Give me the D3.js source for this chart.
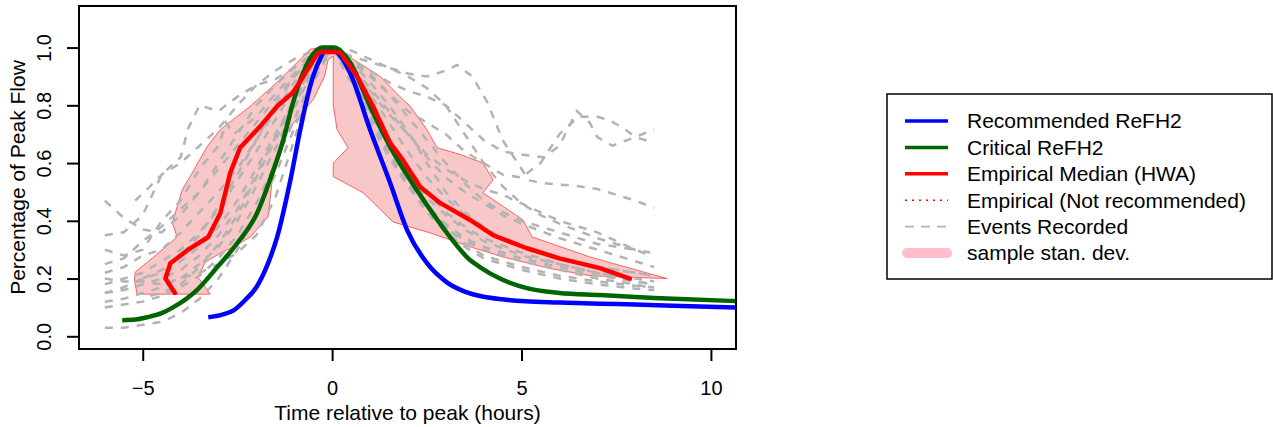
<!DOCTYPE html>
<html>
<head>
<meta charset="utf-8">
<script src="https://cdn.jsdelivr.net/npm/d3@7"></script>
<style>
  body { margin: 0; background: #fff; }
  svg { display: block; font-family: "Liberation Sans", Arial, sans-serif; }
</style>
</head>
<body>
<svg width="1273" height="427"></svg>
<script>
// ReFH2 design hydrographs
const blueT = [-3.27, -2.9, -2.6, -2.3, -2.0, -1.7, -1.45, -1.1, -0.84, -0.58, -0.32, -0.15, 0.05, 0.47, 1.0, 1.53, 1.98, 2.5, 3.03, 3.5, 4.0, 4.5, 5.1, 6.0, 7.07, 8.0, 9.0, 10.66];
const blueQ = [0.066, 0.075, 0.09, 0.125, 0.17, 0.25, 0.344, 0.542, 0.716, 0.866, 0.96, 0.995, 0.99, 0.914, 0.716, 0.532, 0.368, 0.254, 0.187, 0.155, 0.137, 0.128, 0.121, 0.117, 0.113, 0.11, 0.106, 0.10];

const greenT = [-5.54, -5.2, -4.88, -4.5, -4.2, -3.57, -3.03, -2.5, -1.98, -1.64, -1.29, -1.03, -0.76, -0.45, -0.25, 0.05, 0.47, 1.0, 1.53, 2.06, 2.59, 3.11, 3.64, 3.9, 4.43, 5.14, 6.0, 7.07, 8.5, 10.66];
const greenQ = [0.056, 0.058, 0.066, 0.08, 0.10, 0.16, 0.24, 0.323, 0.427, 0.542, 0.68, 0.81, 0.914, 0.985, 1.0, 1.0, 0.949, 0.797, 0.657, 0.542, 0.438, 0.344, 0.264, 0.24, 0.2, 0.167, 0.15, 0.143, 0.133, 0.122];

// empirical median
const redT = [-4.15, -4.4, -4.27, -3.8, -3.27, -2.95, -2.69, -2.43, -1.9, -1.45, -1.03, -0.76, -0.4, -0.3, 0.1, 0.21, 0.66, 1.08, 1.53, 1.87, 2.32, 2.85, 3.64, 4.25, 5.14, 6.0, 7.07, 7.86];
const redQ = [0.15, 0.2, 0.253, 0.3, 0.344, 0.427, 0.566, 0.653, 0.727, 0.797, 0.845, 0.9, 0.977, 0.985, 0.985, 0.983, 0.9, 0.797, 0.67, 0.61, 0.518, 0.462, 0.403, 0.35, 0.305, 0.27, 0.236, 0.2];

// sample stan. dev. polygon (outline, clockwise)
const bandT = [-5.15, -5.22, -5.2, -4.27, -4.09, -4.22, -3.96, -3.75, -3.3, -2.95, -2.16, -1.45, -0.92, -0.58, -0.3, 0.2, 0.55, 1.27, 1.79, 2.06, 2.5, 2.77, 3.38, 3.98, 4.25, 3.98, 5.04, 5.28, 6.8, 8.84,
  6.8, 5.75, 4.5, 3.64, 2.59, 1.61, 0.82, 0.03, 0.03, 0.42, 0.13, 0.03, 0.03,
  -0.1, -0.2, -0.5, -1.16, -1.58, -1.69, -2.16, -2.6, -2.95, -3.35, -3.54, -3.22];
const bandQ = [0.146, 0.195, 0.222, 0.323, 0.344, 0.393, 0.507, 0.553, 0.657, 0.716, 0.797, 0.88, 0.949, 0.994, 1.0, 0.994, 0.96, 0.9, 0.83, 0.797, 0.716, 0.653, 0.63, 0.6, 0.542, 0.497, 0.403, 0.344, 0.275, 0.2,
  0.21, 0.235, 0.275, 0.31, 0.358, 0.396, 0.497, 0.553, 0.6, 0.653, 0.716, 0.8, 0.97,
  0.96, 0.9, 0.82, 0.716, 0.542, 0.414, 0.344, 0.31, 0.288, 0.257, 0.205, 0.146];

// recorded events, [hours, fraction of peak]
const events = [
  [[-6,0.03],[-5.5,0.03],[-5,0.04],[-4.5,0.05],[-4,0.08],[-3.5,0.13],[-3,0.2],[-2.5,0.3],[-2,0.42],[-1.5,0.56],[-1,0.72],[-0.5,0.88],[0,1],[0.5,0.92],[1,0.8],[1.5,0.68],[2,0.56],[2.5,0.46],[3,0.38],[3.5,0.32],[4,0.28],[5,0.24],[6,0.21],[7,0.19],[8,0.175],[8.5,0.17]],
  [[-6,0.47],[-5.5,0.41],[-5,0.37],[-4.5,0.36],[-4,0.42],[-3.5,0.5],[-3,0.58],[-2.5,0.66],[-2,0.74],[-1.5,0.82],[-1,0.9],[-0.5,0.96],[0,1],[0.5,0.93],[1,0.84],[1.5,0.74],[2,0.64],[2.5,0.55],[3,0.48],[3.5,0.42],[4,0.37],[5,0.31],[6,0.27],[7,0.24],[8,0.22],[8.5,0.21]],
  [[-6,0.35],[-5.5,0.36],[-5,0.42],[-4.5,0.56],[-4,0.62],[-3.8,0.72],[-3.5,0.8],[-3,0.78],[-2.5,0.83],[-2,0.87],[-1.5,0.89],[-1,0.93],[-0.5,0.98],[0,1],[0.5,0.97],[1,0.95],[1.5,0.93],[2,0.91],[2.5,0.9],[3,0.92],[3.3,0.94],[3.7,0.9],[4.1,0.81],[4.5,0.68],[4.9,0.6],[5.2,0.54],[5.6,0.53],[6.5,0.52],[7,0.51],[7.5,0.49],[8,0.47],[8.5,0.445]],
  [[-6,0.3],[-5.5,0.28],[-5,0.3],[-4.5,0.4],[-4,0.47],[-3.5,0.58],[-3,0.66],[-2.8,0.74],[-2.6,0.7],[-2,0.76],[-1.5,0.84],[-1,0.91],[-0.5,0.97],[0,1],[0.5,0.96],[1,0.92],[1.5,0.88],[2,0.85],[2.5,0.83],[3,0.8],[3.5,0.74],[4,0.68],[4.5,0.64],[5,0.63],[5.6,0.62],[6,0.66],[6.46,0.78],[6.8,0.74],[7,0.69],[7.4,0.66],[7.6,0.67],[8,0.69],[8.5,0.716]],
  [[-6,0.25],[-5.5,0.27],[-5,0.33],[-4.5,0.38],[-4,0.44],[-3.5,0.5],[-3,0.6],[-2.5,0.7],[-2,0.8],[-1.5,0.87],[-1,0.93],[-0.5,0.98],[0,1],[0.5,0.95],[1,0.9],[1.5,0.84],[2,0.78],[2.5,0.74],[3,0.7],[3.5,0.64],[4,0.6],[4.5,0.56],[5,0.55],[5.5,0.6],[6,0.7],[6.5,0.76],[7,0.76],[7.3,0.75],[7.7,0.72],[8,0.69],[8.5,0.67]],
  [[-6,0.22],[-5.5,0.24],[-5,0.28],[-4.5,0.3],[-4,0.36],[-3.5,0.43],[-3,0.5],[-2.5,0.58],[-2,0.68],[-1.5,0.78],[-1,0.88],[-0.5,0.95],[0,1],[0.5,0.93],[1,0.85],[1.5,0.77],[2,0.7],[2.5,0.63],[3,0.58],[3.5,0.54],[4,0.51],[4.5,0.49],[5,0.46],[5.5,0.43],[6,0.4],[6.5,0.38],[7,0.36],[7.5,0.33],[8,0.3],[8.4,0.28]],
  [[-6,0.18],[-5.5,0.2],[-5,0.22],[-4.5,0.26],[-4,0.3],[-3.5,0.36],[-3,0.44],[-2.5,0.54],[-2,0.64],[-1.5,0.75],[-1,0.86],[-0.5,0.95],[0,1],[0.5,0.94],[1,0.86],[1.5,0.78],[2,0.7],[2.5,0.62],[3,0.55],[3.5,0.5],[4,0.46],[4.5,0.42],[5,0.39],[6,0.34],[7,0.3],[8,0.26],[8.5,0.24]],
  [[-6,0.15],[-5.5,0.17],[-5,0.2],[-4.5,0.22],[-4,0.26],[-3.5,0.31],[-3,0.38],[-2.5,0.47],[-2,0.58],[-1.5,0.7],[-1,0.82],[-0.5,0.93],[0,1],[0.5,0.9],[1,0.78],[1.5,0.66],[2,0.56],[2.5,0.48],[3,0.42],[3.5,0.37],[4,0.33],[5,0.28],[6,0.25],[7,0.22],[8,0.2],[8.5,0.19]],
  [[-6,0.12],[-5.5,0.13],[-5,0.15],[-4.5,0.17],[-4,0.2],[-3.5,0.25],[-3,0.31],[-2.5,0.4],[-2,0.52],[-1.5,0.65],[-1,0.79],[-0.5,0.92],[0,1],[0.5,0.91],[1,0.8],[1.5,0.69],[2,0.59],[2.5,0.5],[3,0.43],[3.5,0.38],[4,0.34],[5,0.29],[6,0.25],[7,0.22],[8,0.19],[8.5,0.18]],
  [[-6,0.1],[-5.5,0.11],[-5,0.12],[-4.5,0.14],[-4,0.17],[-3.5,0.21],[-3,0.27],[-2.5,0.35],[-2,0.46],[-1.5,0.6],[-1,0.75],[-0.5,0.9],[0,1],[0.5,0.88],[1,0.74],[1.5,0.62],[2,0.52],[2.5,0.44],[3,0.38],[3.5,0.33],[4,0.3],[5,0.26],[6,0.23],[7,0.2],[8,0.18],[8.5,0.165]],
  [[-5,0.2],[-4.5,0.23],[-4,0.28],[-3.5,0.35],[-3,0.45],[-2.5,0.56],[-2,0.68],[-1.5,0.8],[-1,0.9],[-0.5,0.97],[0,1],[0.5,0.96],[1,0.91],[1.5,0.84],[2,0.76],[2.5,0.68],[3,0.6],[3.5,0.53],[4,0.47],[4.5,0.43],[5,0.4],[6,0.36],[7,0.32],[8,0.3]],
  [[-4.8,0.14],[-4.5,0.15],[-4,0.18],[-3.5,0.24],[-3,0.32],[-2.5,0.42],[-2,0.55],[-1.5,0.68],[-1,0.8],[-0.5,0.92],[0,1],[0.5,0.95],[1,0.88],[1.5,0.8],[2,0.71],[2.5,0.6],[3,0.5],[3.5,0.43],[4,0.38],[4.5,0.34],[5,0.31],[6,0.27],[7,0.24],[8,0.22],[8.5,0.21]],
  [[-6,0.2],[-5.5,0.19],[-5,0.19],[-4.5,0.18],[-4,0.2],[-3.5,0.22],[-3,0.25],[-2.5,0.29],[-2,0.35],[-1.5,0.48],[-1,0.68],[-0.5,0.9],[0,1],[0.5,0.9],[1,0.77],[1.5,0.64],[2,0.53],[2.5,0.45],[3,0.39],[3.5,0.34],[4,0.31],[5,0.27],[6,0.24],[7,0.21],[8,0.19],[8.5,0.18]],
  [[-5.2,0.47],[-4.8,0.52],[-4.5,0.56],[-4,0.6],[-3.5,0.66],[-3,0.72],[-2.5,0.8],[-2,0.87],[-1.5,0.92],[-1,0.96],[-0.5,0.99],[0,1],[0.5,0.99],[1,0.96],[1.5,0.93],[2,0.9],[2.5,0.86],[3,0.8],[3.5,0.7],[4,0.6],[4.5,0.52],[5,0.46],[5.5,0.42],[6,0.39],[7,0.34],[8,0.3],[8.4,0.29]],
  [[-6,0.15],[-5.5,0.16],[-5,0.18],[-4.5,0.2],[-4,0.23],[-3.5,0.28],[-3,0.35],[-2.5,0.44],[-2,0.56],[-1.5,0.69],[-1,0.82],[-0.5,0.94],[0,1],[0.5,0.89],[1,0.76],[1.5,0.63],[2,0.52],[2.5,0.43],[3,0.36],[3.5,0.31],[4,0.27],[5,0.23],[6,0.2],[7,0.18],[8,0.165],[8.5,0.16]]
];

const xTicks = [-5, 0, 5, 10];
const yTicks = [0, 0.2, 0.4, 0.6, 0.8, 1.0];
const legendLabels = ["Recommended ReFH2", "Critical ReFH2", "Empirical Median (HWA)", "Empirical (Not recommended)", "Events Recorded", "sample stan. dev."];

const svg = d3.select("svg");
const mLeft = 79, mRight = 736, mTop = 6, mBottom = 349;

// R style 4% axis extension
const xlim = [-6.04, 10.02], ylim = [0, 1.1];
const pad = (l) => { const d = (l[1] - l[0]) * 0.04; return [l[0] - d, l[1] + d]; };
const x = d3.scaleLinear().domain(pad(xlim)).range([mLeft, mRight]);
const y = d3.scaleLinear().domain(pad(ylim)).range([mBottom, mTop]);

svg.append("defs").append("clipPath").attr("id", "plotclip")
  .append("rect").attr("x", mLeft).attr("y", mTop).attr("width", mRight - mLeft).attr("height", mBottom - mTop);

const plot = svg.append("g").attr("clip-path", "url(#plotclip)");
const line = d3.line().x(d => x(d[0])).y(d => y(d[1]));
const zip = (a, b) => a.map((v, i) => [v, b[i]]);

plot.append("path")
  .attr("d", line(zip(bandT, bandQ)) + "Z")
  .attr("fill", "#f8c8c8")
  .attr("stroke", "#ff4040")
  .attr("stroke-width", 0.8);

plot.append("g").selectAll("path")
  .data(events)
  .join("path")
  .attr("d", d => line(d))
  .attr("fill", "none")
  .attr("stroke", "#b3b3b3")
  .attr("stroke-width", 2.5)
  .attr("stroke-dasharray", "8,8");

const smooth = d3.line().x(d => x(d[0])).y(d => y(d[1])).curve(d3.curveMonotoneX);

plot.append("path").attr("d", smooth(zip(blueT, blueQ)))
  .attr("fill", "none").attr("stroke", "#0000ff").attr("stroke-width", 4.5);
plot.append("path").attr("d", smooth(zip(greenT, greenQ)))
  .attr("fill", "none").attr("stroke", "#006400").attr("stroke-width", 4.5);
plot.append("path").attr("d", line(zip(redT, redQ)))
  .attr("fill", "none").attr("stroke", "#ff0000").attr("stroke-width", 4.5)
  .attr("stroke-linejoin", "round").attr("stroke-linecap", "round");

// box
svg.append("rect").attr("x", mLeft).attr("y", mTop).attr("width", mRight - mLeft).attr("height", mBottom - mTop)
  .attr("fill", "none").attr("stroke", "#000").attr("stroke-width", 2);

// axes
const xAxis = svg.append("g").attr("transform", `translate(0,${mBottom})`)
  .call(d3.axisBottom(x).tickValues(xTicks).tickSize(12).tickFormat(d3.format("d")));
xAxis.select(".domain").remove();
xAxis.selectAll("line").attr("stroke-width", 2);
xAxis.selectAll("text").attr("y", 46).attr("dy", 0).attr("font-size", 20)
  .attr("font-family", "Liberation Sans, Arial, sans-serif").attr("fill", "#000");

const yAxis = svg.append("g").attr("transform", `translate(${mLeft},0)`)
  .call(d3.axisLeft(y).tickValues(yTicks).tickSize(12).tickFormat(d3.format(".1f")));
yAxis.select(".domain").remove();
yAxis.selectAll("line").attr("stroke-width", 2);
yAxis.selectAll("text")
  .attr("x", 0).attr("dy", 0)
  .attr("transform", "translate(-28,0) rotate(-90)")
  .attr("text-anchor", "middle").attr("font-size", 20)
  .attr("font-family", "Liberation Sans, Arial, sans-serif").attr("fill", "#000");

svg.append("text").attr("x", (mLeft + mRight) / 2).attr("y", 420)
  .attr("text-anchor", "middle").attr("font-size", 21)
  .text("Time relative to peak (hours)");
svg.append("text").attr("transform", `translate(25,${(mTop + mBottom) / 2}) rotate(-90)`)
  .attr("text-anchor", "middle").attr("font-size", 21)
  .text("Percentage of Peak Flow");

// legend
const legend = svg.append("g");
legend.append("rect").attr("x", 887).attr("y", 94).attr("width", 385).attr("height", 185)
  .attr("fill", "#fff").attr("stroke", "#000").attr("stroke-width", 1.5);
const rowY = i => 121 + i * 26.4;
const swatches = [
  { stroke: "#0000ff", width: 3.5 },
  { stroke: "#006400", width: 3.5 },
  { stroke: "#ff0000", width: 3.5 },
  { stroke: "#ff0000", width: 1.5, dash: "2,5" },
  { stroke: "#b3b3b3", width: 1.8, dash: "9,7" },
  { stroke: "#ffc0cb", width: 10, cap: "round" }
];
legend.selectAll("line").data(swatches).join("line")
  .attr("x1", (d, i) => i === 5 ? 907 : 905).attr("x2", (d, i) => i === 5 ? 947 : 948)
  .attr("y1", (d, i) => rowY(i)).attr("y2", (d, i) => rowY(i))
  .attr("stroke", d => d.stroke).attr("stroke-width", d => d.width)
  .attr("stroke-dasharray", d => d.dash || null)
  .attr("stroke-linecap", d => d.cap || "butt");
legend.selectAll("text").data(legendLabels).join("text")
  .attr("x", 967).attr("y", (d, i) => rowY(i)).attr("dy", "0.35em")
  .attr("font-size", 21).text(d => d);
</script>
</body>
</html>
